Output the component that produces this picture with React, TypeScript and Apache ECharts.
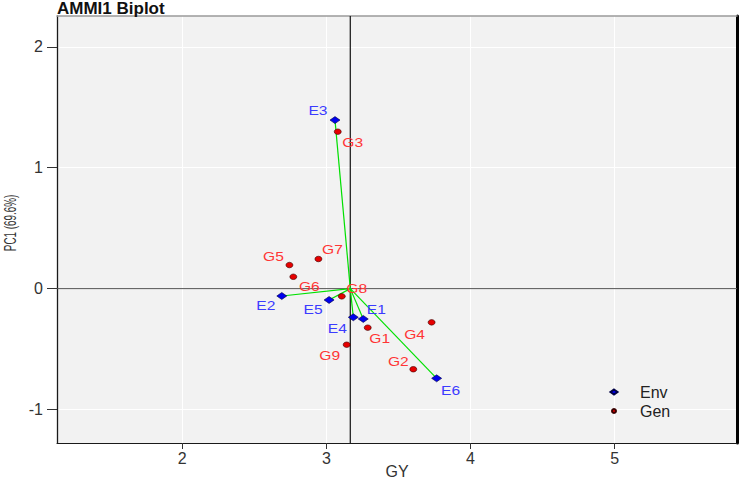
import React, { useEffect, useRef } from 'react';
import * as echarts from 'echarts';

// ---- data ----
const envNames = ['E1', 'E2', 'E3', 'E4', 'E5', 'E6'];
const envGY = [3.256, 2.691, 3.06, 3.187, 3.019, 3.765];
const envPC1 = [-0.251, -0.061, 1.394, -0.237, -0.094, -0.742];

const genNames = ['G1', 'G2', 'G3', 'G4', 'G5', 'G6', 'G7', 'G8', 'G9'];
const genGY = [3.287, 3.603, 3.079, 3.73, 2.744, 2.771, 2.945, 3.107, 3.141];
const genPC1 = [-0.323, -0.667, 1.298, -0.279, 0.195, 0.098, 0.245, -0.064, -0.464];

const grandMean = 3.166;
const xTicks = [2, 3, 4, 5];
const yTicks = [-1, 0, 1, 2];
const xRange = [1.132, 5.848];
const yRange = [-1.277, 2.255];

// ---- layout (label offsets in px, not data) ----
const envLabelOffset = [[13, -9], [-16, 10], [-17, -9], [-16, 11], [-16, 10], [14, 12]];
const genLabelOffset = [[12, 11], [-15, -8], [15, 11], [-17, 12], [-16, -8], [16, 10], [14, -9], [15, -8], [-17, 11]];

const FONT = '"Liberation Sans", Arial, Helvetica, sans-serif';

function buildOption(): any {
  const envData = envGY.map((x, i) => [x, envPC1[i]]);
  const genData = genGY.map((x, i) => [x, genPC1[i]]);

  const labelSeries = (name: string, data: number[][], names: string[], offs: number[][], color: string) => ({
    type: 'custom',
    name,
    data,
    z: 4,
    silent: true,
    clip: false,
    renderItem: (params: any, api: any) => {
      const i = params.dataIndex;
      const p = api.coord([api.value(0), api.value(1)]);
      return {
        type: 'text',
        x: p[0] + offs[i][0],
        y: p[1] + offs[i][1],
        scaleX: 1.3,
        style: {
          text: names[i],
          fill: color,
          font: '12px ' + FONT,
          align: 'center',
          verticalAlign: 'middle',
        },
      };
    },
  });

  const hiddenAxisCommon = {
    type: 'value',
    axisTick: { show: false },
    axisLabel: { show: false },
    splitLine: { show: false },
  };

  return {
    animation: false,
    backgroundColor: '#ffffff',
    title: {
      text: 'AMMI1 Biplot',
      left: 57,
      top: 0,
      padding: 0,
      textStyle: { fontFamily: FONT, fontWeight: 'bold', fontSize: 17, color: '#111' },
    },
    grid: {
      left: 57,
      right: 3,
      top: 16,
      bottom: 37,
      show: true,
      backgroundColor: '#f2f2f2',
      borderWidth: 0,
      containLabel: false,
      outerBoundsMode: 'none',
    },
    xAxis: [
      {
        type: 'value',
        min: xRange[0],
        max: xRange[1],
        position: 'bottom',
        axisLine: { show: true, onZero: false, lineStyle: { color: '#1a1a1a', width: 1 } },
        axisTick: { show: true, length: 6, customValues: xTicks, lineStyle: { color: '#333' } },
        axisLabel: { customValues: xTicks, fontSize: 16, fontFamily: FONT, color: '#333', margin: 7 },
        splitLine: { show: true, lineStyle: { color: '#ffffff', width: 1 } },
        name: 'GY',
        nameLocation: 'middle',
        nameGap: 20,
        nameMoveOverlap: false,
        nameTextStyle: { fontSize: 16, fontFamily: FONT, color: '#333' },
      },
      {
        ...hiddenAxisCommon,
        min: xRange[0],
        max: xRange[1],
        position: 'top',
        axisLine: { show: true, onZero: false, lineStyle: { color: '#9a9a9a', width: 1.5 } },
      },
    ],
    yAxis: [
      {
        type: 'value',
        min: yRange[0],
        max: yRange[1],
        position: 'left',
        axisLine: { show: true, onZero: false, lineStyle: { color: '#1a1a1a', width: 1.3 } },
        axisTick: { show: true, length: 10, customValues: yTicks, lineStyle: { color: '#333' } },
        axisLabel: { customValues: yTicks, fontSize: 16, fontFamily: FONT, color: '#333', margin: 14 },
        splitLine: { show: true, lineStyle: { color: '#ffffff', width: 1 } },
      },
      {
        ...hiddenAxisCommon,
        min: yRange[0],
        max: yRange[1],
        position: 'right',
        axisLine: { show: true, onZero: false, lineStyle: { color: '#000000', width: 3 } },
      },
    ],
    legend: [
      {
        data: [{ name: 'Env', icon: 'diamond' }],
        left: 609.5,
        top: 384,
        padding: 0,
        itemWidth: 7,
        itemHeight: 5,
        selectedMode: false,
        textStyle: { fontSize: 16, fontFamily: FONT, color: '#222', padding: [0, 0, 0, 17.5] },
      },
      {
        data: [{ name: 'Gen', icon: 'circle' }],
        left: 611,
        top: 403,
        padding: 0,
        itemWidth: 4,
        itemHeight: 4,
        selectedMode: false,
        textStyle: { fontSize: 16, fontFamily: FONT, color: '#222', padding: [0, 0, 0, 19] },
      },
    ],
    graphic: [
      {
        type: 'text',
        x: 9.5,
        y: 223,
        rotation: Math.PI / 2,
        scaleX: 0.58,
        style: {
          text: 'PC1 (69.6%)',
          font: '17px ' + FONT,
          fill: '#333',
          align: 'center',
          verticalAlign: 'middle',
        },
      },
    ],
    series: [
      {
        type: 'line',
        name: 'zero',
        data: [[xRange[0], 0], [xRange[1], 0]],
        symbol: 'none',
        silent: true,
        z: 1,
        lineStyle: { color: '#555555', width: 1 },
      },
      {
        type: 'line',
        name: 'mean',
        data: [[grandMean, yRange[0]], [grandMean, yRange[1]]],
        symbol: 'none',
        silent: true,
        z: 1,
        lineStyle: { color: '#111111', width: 1.2 },
      },
      {
        type: 'lines',
        name: 'vectors',
        coordinateSystem: 'cartesian2d',
        silent: true,
        z: 2,
        lineStyle: { color: '#00e000', width: 1.2, opacity: 1 },
        data: envData.map((p) => ({ coords: [[grandMean, 0], p] })),
      },
      {
        type: 'scatter',
        name: 'Env',
        data: envData,
        symbol: 'diamond',
        symbolSize: [10, 7],
        z: 3,
        itemStyle: { color: '#0000ee', borderColor: '#000044', borderWidth: 0.6, opacity: 1 },
      },
      {
        type: 'scatter',
        name: 'Gen',
        data: genData,
        symbol: 'circle',
        symbolSize: [7, 5.5],
        z: 3,
        itemStyle: { color: '#e60000', borderColor: '#3a0000', borderWidth: 0.6, opacity: 1 },
      },
      labelSeries('EnvLabels', envData, envNames, envLabelOffset, '#3b3bff'),
      labelSeries('GenLabels', genData, genNames, genLabelOffset, '#ff3535'),
    ],
  };
}

export default function App() {
  const ref = useRef<HTMLDivElement>(null);
  useEffect(() => {
    if (!ref.current) return;
    const chart = echarts.init(ref.current, undefined, { renderer: 'svg' });
    chart.setOption(buildOption());
    return () => chart.dispose();
  }, []);
  return (
    <div
      ref={ref}
      style={{ position: 'absolute', left: 0, top: 0, width: 740, height: 480 }}
    />
  );
}
